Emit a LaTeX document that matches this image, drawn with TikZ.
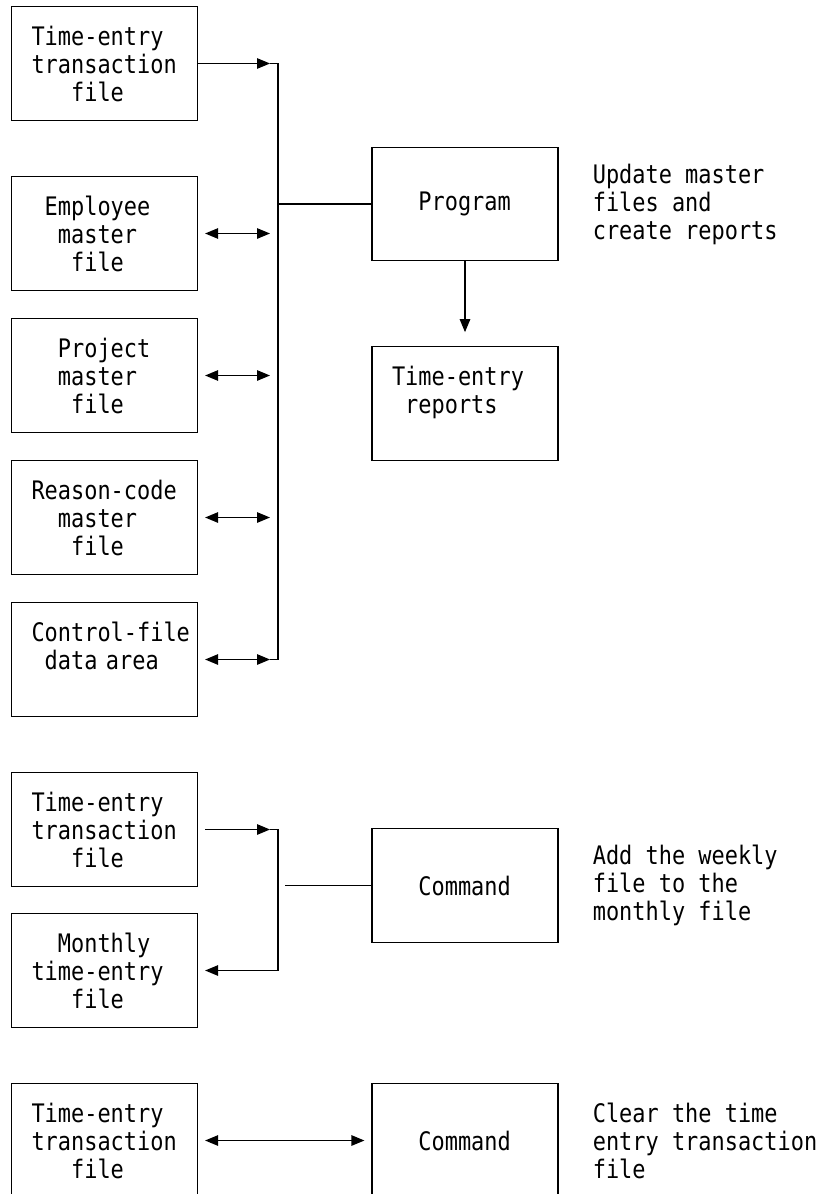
\documentclass[tikz,border=0pt]{standalone}
\usepackage{fontspec}
\newfontfamily\listfont[FakeStretch=0.86]{DejaVu Sans Mono}
\usetikzlibrary{arrows.meta,positioning}
\newcommand{\gap}[1]{\hphantom{#1}}
\exhyphenpenalty=10000
\hyphenpenalty=10000

\begin{document}
\begin{tikzpicture}[
    x=1pt, y=-1pt,
    filebox/.style={
        draw, line width=1.2pt,
        minimum width=186pt, minimum height=113.5pt,
        text width=146pt, inner xsep=20pt, inner ysep=0pt,
        align=left,
        font=\listfont\fontsize{25.5pt}{28pt}\selectfont
    },
    note/.style={
        inner sep=0pt, align=left,
        font=\listfont\fontsize{25.5pt}{28pt}\selectfont
    },
    bus/.style={
        line width=1.2pt
    },
    flow/.style={
        -{Triangle[length=13pt,width=10.5pt]}, line width=1.2pt
    },
    dual/.style={
        {Triangle[length=13pt,width=10.5pt]}-{Triangle[length=13pt,width=10.5pt]}, line width=1.2pt
    }
]
\useasboundingbox (0,0) rectangle (832,1194);

% ====== MISE A JOUR (en haut) ======
\node[filebox] (tef) at (104.5,  63.5) {Time-entry\\transaction\\\gap{xxx}file};
\node[filebox] (emp) at (104.5, 233.5) {\gap{x}Employee\\\gap{xx}master\\\gap{xxx}file};
\node[filebox] (prj) at (104.5, 375.5) {\gap{xx}Project\\\gap{xx}master\\\gap{xxx}file};
\node[filebox] (rsn) at (104.5, 517.5) {Reason-code\\\gap{xx}master\\\gap{xxx}file};
\node[filebox] (ctl) at (104.5, 659.5) {Control-file\\\gap{x}data area\\\mbox{}};

\node[filebox] (prog) at (465, 204)   {\gap{xx}Program};
\node[filebox] (rep)  at (465, 403.5) {Time-entry\\\gap{x}reports\\\mbox{}};
\node[note, right=34pt of prog] (progtxt) {Update master\\files and\\create reports};

\coordinate (busA) at (278,  63.5);
\coordinate (busB) at (278, 659.5);

\draw[flow, shorten >=8pt] (tef.east) -- (busA);
\draw[bus] ([xshift=-8pt]busA) -- (busA) -- (busB) -- ([xshift=-8pt]busB);
\foreach \f in {emp, prj, rsn, ctl}
    \draw[dual, shorten <=7pt, shorten >=8pt] (\f.east) -- (\f.east -| busA);
\draw[bus] (busA |- prog.west) -- (prog.west);
\draw[flow, shorten >=14pt] (prog.south) -- (rep.north);

% ====== AJOUT AU FICHIER MENSUEL ======
\node[filebox] (tef2) at (104.5, 829.5) {Time-entry\\transaction\\\gap{xxx}file};
\node[filebox] (mon)  at (104.5, 970.5) {\gap{xx}Monthly\\time-entry\\\gap{xxx}file};
\node[filebox] (cmd)  at (465, 885.5)   {\gap{xx}Command};
\node[note, right=34pt of cmd] (cmdtxt) {Add the weekly\\file to the\\monthly file};

\coordinate (busC) at (278, 829.5);
\coordinate (busD) at (278, 970.5);
\coordinate (tap)  at (285, 885.5);

\draw[flow, shorten <=7pt, shorten >=8pt] (tef2.east) -- (busC);
\draw[bus] ([xshift=-8pt]busC) -- (busC) -- (busD);
\draw[flow, shorten >=7pt] (busD) -- (mon.east);
\draw[bus] (tap) -- (cmd.west);

% ====== REMISE A ZERO ======
\node[filebox] (tef3) at (104.5, 1140.5) {Time-entry\\transaction\\\gap{xxx}file};
\node[filebox] (clr)  at (465, 1140.5)   {\gap{xx}Command};
\node[note, right=34pt of clr] (clrtxt) {Clear the time\\entry transaction\\file};

\draw[dual, shorten <=7pt, shorten >=7pt] (tef3.east) -- (clr.west);

\end{tikzpicture}
\end{document}
